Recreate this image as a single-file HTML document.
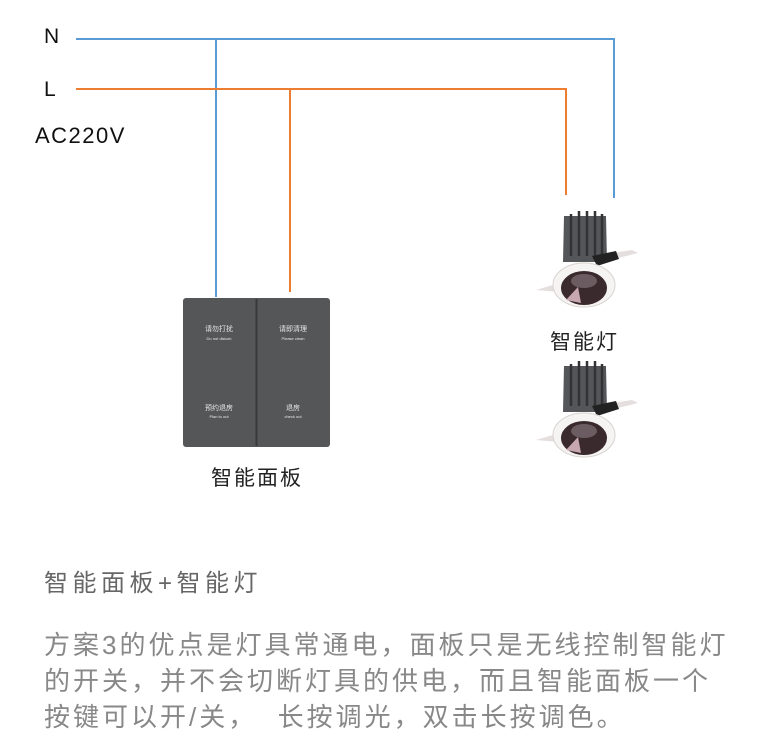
<!DOCTYPE html>
<html><head><meta charset="utf-8"><style>
body{margin:0;width:765px;height:749px;background:#fff;overflow:hidden;position:relative;font-family:"Liberation Sans","Noto Sans CJK SC",sans-serif}
.t{position:absolute;white-space:nowrap}
</style></head><body>
<svg width="765" height="749" style="position:absolute;left:0;top:0">
<g fill="none" stroke-width="2">
<polyline points="76,39 614,39 614,198" stroke="#5b9bd5"/>
<line x1="216" y1="39" x2="216" y2="297" stroke="#5b9bd5"/>
<polyline points="76,89 566,89 566,195" stroke="#ed7d31"/>
<line x1="290" y1="89" x2="290" y2="292" stroke="#ed7d31"/>
</g>
<rect x="183" y="298" width="147" height="149" rx="3" fill="#555658"/>
<line x1="256.5" y1="299" x2="256.5" y2="446" stroke="#3a3a3c" stroke-width="2"/>
<g fill="#e8e8e8" font-family="Liberation Sans,Noto Sans CJK SC,sans-serif" text-anchor="middle">
<text x="219" y="331" font-size="7">请勿打扰</text><text x="219" y="340" font-size="4">Do not disturb</text>
<text x="293" y="331" font-size="7">请即清理</text><text x="293" y="340" font-size="4">Please clean</text>
<text x="219" y="410" font-size="7">预约退房</text><text x="219" y="418" font-size="4">Plan to out</text>
<text x="293" y="410" font-size="7">退房</text><text x="293" y="418" font-size="4">check out</text>
</g>
<defs><g id="lamp">
<path d="M536,290 l20,-6 l3,8 z" fill="#e4dede"/>
<path d="M600,255 l32,-5 l6,3 l-32,8 z" fill="#e4dede"/>
<path d="M564,216 l42,0 l1,46 l-44,0 z" fill="#55565a"/>
<g stroke="#333" stroke-width="2.5"><line x1="571" y1="214" x2="571" y2="256"/><line x1="579" y1="211" x2="579" y2="256"/><line x1="587" y1="211" x2="587" y2="256"/><line x1="595" y1="211" x2="595" y2="256"/><line x1="602" y1="214" x2="602" y2="256"/></g>
<path d="M592,256 l24,-5 l3,8 l-22,7 z" fill="#222"/>
<ellipse cx="584" cy="285" rx="31" ry="22" fill="#f6f4f2" stroke="#d8d4d0" stroke-width="1"/>
<ellipse cx="584" cy="288" rx="23" ry="17" fill="#3a2a2e"/>
<ellipse cx="584" cy="281" rx="13" ry="7" fill="#6a5c60"/>
<path d="M566,300 l12,-13 l3,16 z" fill="#c8a8b0"/>
</g></defs>
<use href="#lamp"/>
<use href="#lamp" y="150"/>
</svg>
<div class="t" style="left:44px;top:25px;font-size:21px;color:#111">N</div>
<div class="t" style="left:44px;top:78px;font-size:21px;color:#111">L</div>
<div class="t" style="left:35px;top:123px;font-size:22px;letter-spacing:1.5px;color:#111">AC220V</div>
<div class="t" style="left:550px;top:326px;font-size:21px;letter-spacing:2px;color:#222">智能灯</div>
<div class="t" style="left:211px;top:462px;font-size:21px;letter-spacing:2px;color:#222">智能面板</div>
<div class="t" style="left:44px;top:563px;font-size:24px;letter-spacing:4.5px;color:#666">智能面板+智能灯</div>
<div class="t" style="left:44px;top:627px;font-size:26px;letter-spacing:3px;line-height:36px;color:#888">方案3的优点是灯具常通电，面板只是无线控制智能灯<br>的开关，并不会切断灯具的供电，而且智能面板一个<br>按键可以开/关，&nbsp; 长按调光，双击长按调色。</div>
</body></html>
